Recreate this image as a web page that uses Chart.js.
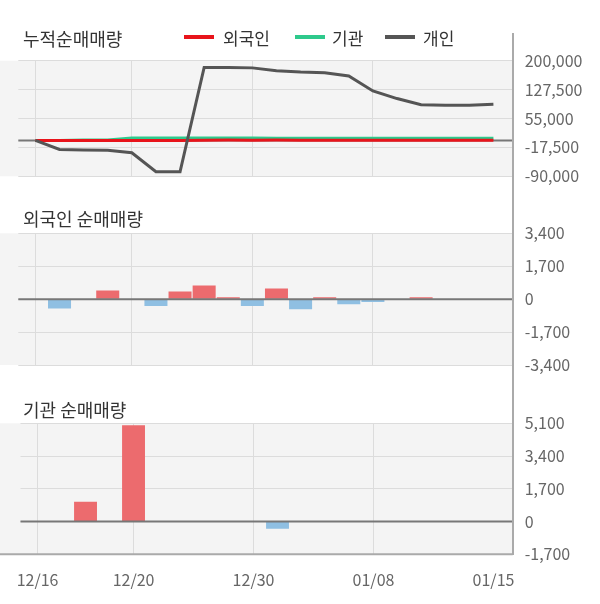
<!DOCTYPE html>
<html>
<head>
<meta charset="utf-8">
<script src="https://cdn.jsdelivr.net/npm/chart.js@4.4.1/dist/chart.umd.min.js"></script>
<style>
    html, body { margin: 0; padding: 0; background: #fff; }
    body { width: 600px; height: 604px; position: relative; overflow: hidden; font-family: "Noto Sans CJK KR", sans-serif; }
    canvas { position: absolute; left: 0; }
    .title { position: absolute; left: 23px; height: 20px; line-height: 20px; font-size: 18px; color: #333; white-space: nowrap; }
    .legendText { position: absolute; top: 28px; height: 20px; line-height: 20px; font-size: 17px; color: #333; white-space: nowrap; }
    .swatch { position: absolute; top: 35px; width: 30px; height: 4px; }
    #axisLine { position: absolute; left: 512px; top: 33px; width: 2px; height: 522px; background: #aaa; }
</style>
</head>
<body>
<canvas id="cumChart" width="600" height="200" style="top:0"></canvas>
<canvas id="foreignChart" width="600" height="200" style="top:200px"></canvas>
<canvas id="instChart" width="600" height="224" style="top:380px"></canvas>

<div id="axisLine"></div>

<div class="title" style="top:28px">누적순매매량</div>
<div class="title" style="top:208px">외국인 순매매량</div>
<div class="title" style="top:399px">기관 순매매량</div>

<div class="swatch" style="left:184px; background:#e8141b"></div>
<div class="legendText" style="left:223px">외국인</div>
<div class="swatch" style="left:295px; background:#2ec98c"></div>
<div class="legendText" style="left:332px">기관</div>
<div class="swatch" style="left:385px; background:#555"></div>
<div class="legendText" style="left:423px">개인</div>

<script>
(function () {
    // Trading days
    const dates = ['12/16', '12/17', '12/18', '12/19', '12/20', '12/23', '12/24', '12/26', '12/27', '12/30',
        '01/02', '01/03', '01/06', '01/07', '01/08', '01/09', '01/10', '01/13', '01/14', '01/15'];

    // Cumulative net buying
    const foreignCum = [0, -480, -480, -30, -30, -390, 10, 720, 820, 460, 1010, 490, 590, 330, 180, 180, 280, 280, 280, 280];
    const instCum = [0, 0, 1030, 1030, 6030, 6030, 6030, 6030, 6030, 6030, 5650, 5650, 5650, 5650, 5650, 5650, 5650, 5650, 5650, 5650];
    const personCum = [0, -22600, -24000, -24500, -31000, -78500, -78500, 183000, 183000, 182000,
        175000, 171500, 170000, 161500, 124000, 105000, 89500, 88000, 88000, 91000];

    // Daily net buying
    const foreignNet = [0, -480, 0, 450, 0, -360, 400, 710, 100, -360, 550, -520, 100, -260, -150, 0, 100, 0, 0, 0];
    const instNet = [0, 0, 1030, 0, 5000, 0, 0, 0, 0, 0, -380, 0, 0, 0, 0, 0, 0, 0, 0, 0];

    // Axis ticks
    const cumTicks = [-90000, -17500, 55000, 127500, 200000];
    const foreignTicks = [-3400, -1700, 0, 1700, 3400];
    const instTicks = [-1700, 0, 1700, 3400, 5100];
    const dateTicks = [0, 4, 9, 14, 19];

    const RED = '#ec6b6e';
    const BLUE = '#8fbfe2';

    Chart.defaults.font.family = "'Noto Sans CJK KR', sans-serif";
    Chart.defaults.animation = false;

    // Gray plot background, drawn from the left page edge
    const plotBackground = {
        id: 'plotBackground',
        beforeDraw(chart) {
            const a = chart.chartArea;
            const ctx = chart.ctx;
            ctx.save();
            ctx.fillStyle = '#f4f4f4';
            ctx.fillRect(0, a.top, a.right, a.bottom - a.top);
            ctx.restore();
        }
    };

    // Dark zero line
    function zeroLine(after) {
        const draw = function (chart) {
            const a = chart.chartArea;
            const y = chart.scales.y.getPixelForValue(0);
            const ctx = chart.ctx;
            ctx.save();
            ctx.strokeStyle = '#777';
            ctx.lineWidth = 2;
            ctx.beginPath();
            ctx.moveTo(a.left, y);
            ctx.lineTo(a.right, y);
            ctx.stroke();
            ctx.restore();
        };
        return after ? { id: 'zeroLine', afterDatasetsDraw: draw } : { id: 'zeroLine', beforeDatasetsDraw: draw };
    }

    // Darker bottom border for the last panel
    const bottomBorder = {
        id: 'bottomBorder',
        afterDraw(chart) {
            const a = chart.chartArea;
            const ctx = chart.ctx;
            ctx.save();
            ctx.strokeStyle = '#aaa';
            ctx.lineWidth = 2;
            ctx.beginPath();
            ctx.moveTo(0, a.bottom);
            ctx.lineTo(a.right, a.bottom);
            ctx.stroke();
            ctx.restore();
        }
    };

    function points(values) {
        return values.map((v, i) => ({ x: i, y: v }));
    }

    function buildOptions(yTicks, padding, showDates) {
        return {
            responsive: false,
            layout: { padding: padding },
            plugins: { legend: { display: false }, tooltip: { enabled: false } },
            scales: {
                x: {
                    type: 'linear',
                    min: -0.71,
                    max: 19.8,
                    offset: false,
                    afterBuildTicks: function (scale) {
                        scale.ticks = dateTicks.map(v => ({ value: v }));
                    },
                    afterFit: function (scale) {
                        scale.height = showDates ? 49.7 : 0;
                    },
                    grid: {
                        color: ctx => (ctx.tick && ctx.tick.value === 19) ? 'rgba(0,0,0,0)' : '#dcdcdc',
                        drawTicks: false,
                        offset: false
                    },
                    border: { display: false },
                    ticks: {
                        display: showDates,
                        padding: 16,
                        color: '#666',
                        font: { size: 16 },
                        maxRotation: 0,
                        autoSkip: false,
                        callback: v => dates[v]
                    }
                },
                y: {
                    position: 'right',
                    min: yTicks[0],
                    max: yTicks[yTicks.length - 1],
                    afterBuildTicks: function (scale) {
                        scale.ticks = yTicks.map(v => ({ value: v }));
                    },
                    afterFit: function (scale) {
                        scale.width = 87.3;
                    },
                    grid: { color: '#dcdcdc', drawTicks: false },
                    border: { display: false },
                    ticks: {
                        padding: 12,
                        color: '#666',
                        font: { size: 16 },
                        callback: v => v.toLocaleString('en-US')
                    }
                }
            }
        };
    }

    function barDataset(values) {
        return {
            data: points(values),
            backgroundColor: ctx => (ctx.raw && ctx.raw.y < 0) ? BLUE : RED,
            borderWidth: 0,
            barPercentage: 0.955,
            categoryPercentage: 1.0
        };
    }

    // Cumulative lines
    new Chart(document.getElementById('cumChart'), {
        type: 'line',
        data: {
            datasets: [
                { label: '외국인', data: points(foreignCum), borderColor: '#e8141b', borderWidth: 3, pointRadius: 0, tension: 0, order: 1 },
                { label: '기관', data: points(instCum), borderColor: '#2ec98c', borderWidth: 3, pointRadius: 0, tension: 0, order: 2 },
                { label: '개인', data: points(personCum), borderColor: '#555', borderWidth: 3, pointRadius: 0, tension: 0, order: 0 }
            ]
        },
        options: buildOptions(cumTicks, { left: 18.3, top: 60.7, bottom: 23.7, right: 0 }, false),
        plugins: [plotBackground, zeroLine(false)]
    });

    // Foreign daily bars
    new Chart(document.getElementById('foreignChart'), {
        type: 'bar',
        data: { datasets: [barDataset(foreignNet)] },
        options: buildOptions(foreignTicks, { left: 18.3, top: 33.3, bottom: 35, right: 0 }, false),
        plugins: [plotBackground, zeroLine(true)]
    });

    // Institution daily bars
    new Chart(document.getElementById('instChart'), {
        type: 'bar',
        data: { datasets: [barDataset(instNet)] },
        options: buildOptions(instTicks, { left: 18.3, top: 43.3, bottom: 0, right: 0 }, true),
        plugins: [plotBackground, zeroLine(true), bottomBorder]
    });
})();
</script>
</body>
</html>
